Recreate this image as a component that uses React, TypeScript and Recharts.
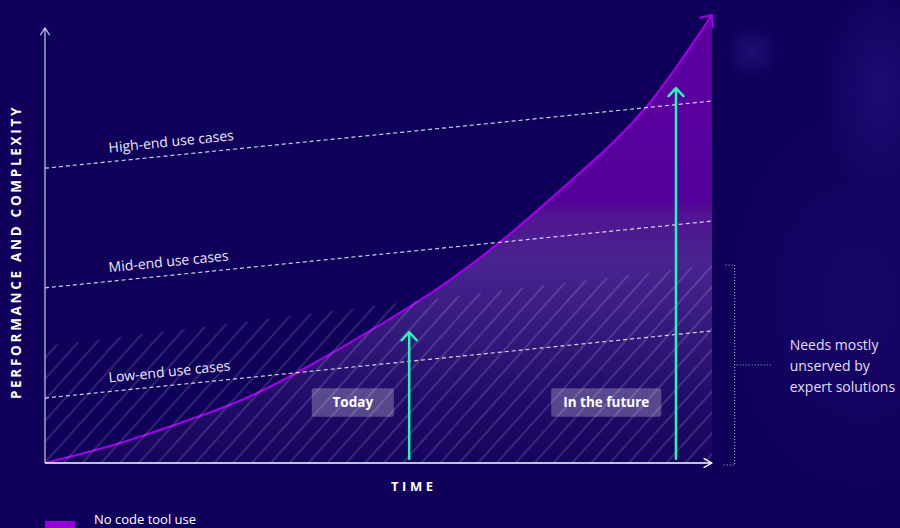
import React from 'react';
import { ComposedChart, Area, XAxis, YAxis, ReferenceLine, ReferenceArea, Legend } from 'recharts';

// ---- data (time 0..100, performance 0..100) ----
const timeSteps = [0, 10, 20, 30, 40, 50, 60, 70, 80, 90, 100];
const noCodeToolUse = [0, 3.9, 8.8, 14.4, 22.0, 30.6, 40.1, 51.5, 64.5, 79.2, 100];
const expertBandTop = [26.1, null, null, null, null, null, null, null, null, null, 44.2];

const useCaseLabels = ['High-end use cases', 'Mid-end use cases', 'Low-end use cases'];
const useCaseStart = [65.8, 39.1, 14.5];
const useCaseEnd = [80.8, 54.0, 29.5];

const milestoneLabels = ['Today', 'In the future'];
const milestoneTime = [54.6, 94.6];
const milestoneReach = [29.2, 83.7];

const seriesName = 'No code tool use';
const yTitle = 'PERFORMANCE AND COMPLEXITY';
const xTitle = 'TIME';
const noteLines = ['Needs mostly', 'unserved by', 'expert solutions'];

// ---- layout / style constants ----
const BG = '#10005a';
const CURVE = '#9e00e8';
const TEAL = '#33efbb';
const labelBoxes = [
  { x1: 40.0, x2: 52.3 },
  { x1: 75.9, x2: 92.4 },
];
const boxY = [10.3, 16.7];

const data = timeSteps.map((t, i) => ({
  t,
  tool: noCodeToolUse[i],
  expert: expertBandTop[i],
}));

function chevron(x: number, y: number, dir: number, len: number, spread: number) {
  const a1 = dir + Math.PI - spread;
  const a2 = dir + Math.PI + spread;
  return `M${x + len * Math.cos(a1)},${y + len * Math.sin(a1)} L${x},${y} L${x + len * Math.cos(a2)},${y + len * Math.sin(a2)}`;
}

const ArrowLine = (p: any) => {
  const { x1, y1, x2, y2, color, width, len, spread, headOnly, children } = p;
  const dir = Math.atan2(y2 - y1, x2 - x1);
  return (
    <g>
      {!headOnly && <line x1={x1} y1={y1} x2={x2} y2={y2} stroke={color} strokeWidth={width} />}
      <path d={chevron(x2, y2, dir, len, spread)} fill="none" stroke={color} strokeWidth={width} strokeLinecap="round" strokeLinejoin="round" />
      {children}
    </g>
  );
};

const YAxisLine = (p: any) => {
  const { x1, y1, y2 } = p;
  const cx = x1 - 24;
  const cy = (y1 + y2) / 2 + 6.5;
  return (
    <ArrowLine {...p} color="rgba(220,214,240,0.8)" width={1.4} len={8} spread={0.58}>
      <text x={cx} y={cy} transform={`rotate(-90 ${cx} ${cy})`} textAnchor="middle" fill="#ffffff" fontSize={13.5} fontWeight={700} letterSpacing={2.7}>
        {yTitle}
      </text>
    </ArrowLine>
  );
};

const XAxisLine = (p: any) => {
  const { x1, y1, x2 } = p;
  const cx = x1 + (x2 - x1) * 0.553;
  const cy = y1 + 28;
  return (
    <ArrowLine {...p} color="#ffffff" width={1.4} len={9} spread={0.5}>
      <text x={cx} y={cy} textAnchor="middle" fill="#ffffff" fontSize={13} fontWeight={700} letterSpacing={3.6}>
        {xTitle}
      </text>
    </ArrowLine>
  );
};

const UseCaseLine = (p: any) => {
  const { x1, y1, x2, y2, label } = p;
  const ang = Math.atan2(y2 - y1, x2 - x1);
  const f = 0.0975;
  const px = x1 + f * (x2 - x1) + 9 * Math.sin(ang);
  const py = y1 + f * (y2 - y1) - 9 * Math.cos(ang);
  return (
    <g>
      <line x1={x1} y1={y1} x2={x2} y2={y2} stroke="rgba(255,255,255,0.8)" strokeWidth={1.2} strokeDasharray="4 3" />
      <text x={px} y={py} transform={`rotate(${(ang * 180) / Math.PI} ${px} ${py})`} fill="#ece8f8" fontSize={14}>
        {label}
      </text>
    </g>
  );
};

const Bracket = (p: any) => {
  const { x1, y1, y2 } = p;
  const top = Math.min(y1, y2);
  const bottom = Math.max(y1, y2) + 2;
  const mid = (top + bottom) / 2;
  const dotted = { stroke: 'rgba(255,255,255,0.75)', strokeWidth: 1, strokeDasharray: '1 2', fill: 'none' };
  return (
    <g>
      <line x1={x1} y1={top} x2={x1} y2={bottom} {...dotted} />
      <line x1={x1 - 9} y1={top} x2={x1} y2={top} {...dotted} />
      <line x1={x1 - 11} y1={bottom} x2={x1} y2={bottom} {...dotted} />
      <line x1={x1 + 2} y1={mid} x2={x1 + 38} y2={mid} {...dotted} />
      {noteLines.map((s, i) => (
        <text key={s} x={x1 + 55} y={mid - 15 + i * 21} fill="#e4def5" fontSize={14}>
          {s}
        </text>
      ))}
    </g>
  );
};

const LegendContent = () => (
  <div style={{ position: 'relative', width: 300, height: 20 }}>
    <div style={{ position: 'absolute', left: 0, top: 2, width: 30, height: 12, background: '#9400d8' }} />
    <div style={{ position: 'absolute', left: 49, top: -6, fontSize: 13, lineHeight: '13px', color: '#ffffff', whiteSpace: 'nowrap' }}>
      {seriesName}
    </div>
  </div>
);

export default function App() {
  const last = timeSteps.length - 1;
  return (
    <div
      style={{
        position: 'fixed',
        left: 0,
        top: 0,
        width: 900,
        height: 528,
        overflow: 'hidden',
        fontFamily: '"Open Sans", sans-serif',
        background: `radial-gradient(circle at 752px 52px, rgba(45,25,140,0.55) 0px, rgba(45,25,140,0) 28px),
          radial-gradient(ellipse 60px 110px at 880px 90px, rgba(40,20,135,0.6) 0px, rgba(40,20,135,0) 100%),
          radial-gradient(ellipse 140px 200px at 860px 300px, rgba(30,12,115,0.5) 0px, rgba(30,12,115,0) 100%),
          ${BG}`,
      }}
    >
      <ComposedChart width={900} height={528} data={data} margin={{ top: 15, right: 188, bottom: 65, left: 45 }}>
        <defs>
          <linearGradient id="toolFill" x1="0" y1="0" x2="0" y2="1">
            <stop offset="0" stopColor="#5e00a3" />
            <stop offset="0.41" stopColor="#55009a" />
            <stop offset="0.45" stopColor="#501592" />
            <stop offset="0.55" stopColor="#48248f" />
            <stop offset="0.68" stopColor="#371b80" />
            <stop offset="0.86" stopColor="#200c68" />
            <stop offset="1" stopColor="#15045e" />
          </linearGradient>
          <pattern id="hatch" patternUnits="userSpaceOnUse" width="14" height="14" patternTransform="rotate(-48)">
            <line x1="0" y1="7" x2="14" y2="7" stroke="rgba(255,255,255,0.27)" strokeWidth="1" />
          </pattern>
        </defs>
        <XAxis type="number" dataKey="t" domain={[0, 100]} hide />
        <YAxis type="number" domain={[0, 100]} hide />
        <Area
          name={seriesName}
          dataKey="tool"
          type="natural"
          stroke={CURVE}
          strokeWidth={2.2}
          fill="url(#toolFill)"
          fillOpacity={1}
          dot={false}
          activeDot={false}
          isAnimationActive={false}
        />
        <Area
          dataKey="expert"
          type="linear"
          connectNulls
          stroke="none"
          fill="url(#hatch)"
          fillOpacity={1}
          dot={false}
          activeDot={false}
          legendType="none"
          isAnimationActive={false}
        />
        {useCaseLabels.map((label, i) => (
          <ReferenceLine
            key={label}
            segment={[
              { x: timeSteps[0], y: useCaseStart[i] },
              { x: timeSteps[last], y: useCaseEnd[i] },
            ]}
            ifOverflow="visible"
            shape={(p: any) => <UseCaseLine {...p} label={label} />}
          />
        ))}
        {/* axes with arrow heads and titles */}
        <ReferenceLine segment={[{ x: 0, y: 0 }, { x: 0, y: 97.1 }]} ifOverflow="visible" shape={(p: any) => <YAxisLine {...p} />} />
        <ReferenceLine segment={[{ x: 0, y: 0 }, { x: 100, y: 0 }]} ifOverflow="visible" shape={(p: any) => <XAxisLine {...p} />} />
        {/* curve arrow head */}
        <ReferenceLine
          segment={[
            { x: timeSteps[last - 1], y: noCodeToolUse[last - 1] },
            { x: timeSteps[last], y: noCodeToolUse[last] },
          ]}
          ifOverflow="visible"
          shape={(p: any) => <ArrowLine {...p} color={CURVE} width={2.2} len={12} spread={0.72} headOnly />}
        />
        {milestoneLabels.map((label, i) => (
          <ReferenceArea
            key={label + 'box'}
            x1={labelBoxes[i].x1}
            x2={labelBoxes[i].x2}
            y1={boxY[0]}
            y2={boxY[1]}
            fill="#ffffff"
            fillOpacity={0.25}
            stroke="none"
            radius={2}
            ifOverflow="visible"
            label={{ value: label, position: 'center', fill: '#ffffff', fontSize: 13.5, fontWeight: 700 }}
          />
        ))}
        {milestoneLabels.map((label, i) => (
          <ReferenceLine
            key={label + 'arrow'}
            segment={[
              { x: milestoneTime[i], y: 0.7 },
              { x: milestoneTime[i], y: milestoneReach[i] },
            ]}
            ifOverflow="visible"
            shape={(p: any) => <ArrowLine {...p} color={TEAL} width={2.5} len={11} spread={0.75} />}
          />
        ))}
        <ReferenceLine
          segment={[
            { x: 103.4, y: 0 },
            { x: 103.4, y: expertBandTop[last] as number },
          ]}
          ifOverflow="visible"
          shape={(p: any) => <Bracket {...p} />}
        />
        <Legend
          layout="horizontal"
          verticalAlign="middle"
          align="center"
          wrapperStyle={{ position: 'absolute', left: 45, top: 519, width: 300, height: 20 }}
          content={LegendContent}
        />
      </ComposedChart>
    </div>
  );
}
